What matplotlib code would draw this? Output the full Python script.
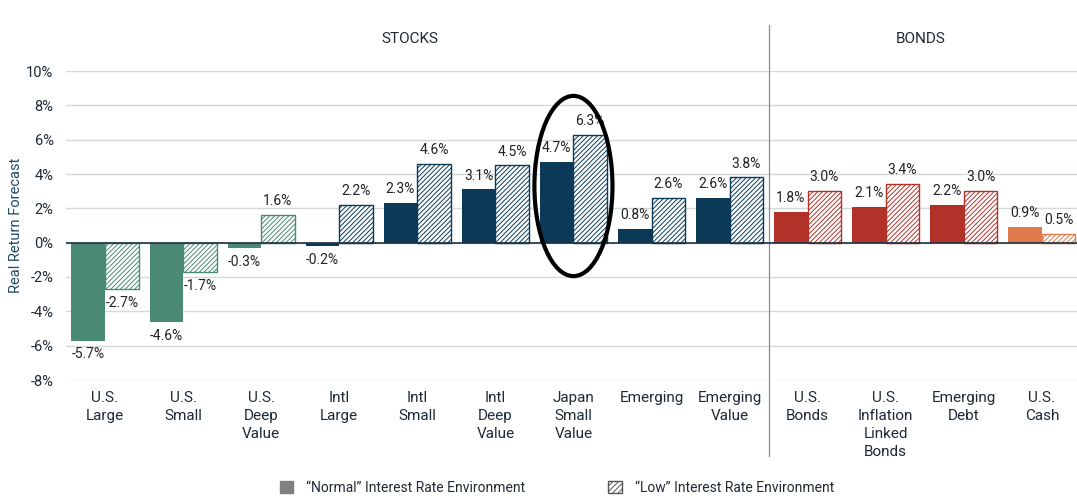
import matplotlib.pyplot as plt
from matplotlib.patches import Ellipse, Patch

plt.rcParams['font.family'] = ['Roboto', 'DejaVu Sans']
plt.rcParams['hatch.linewidth'] = 0.7

categories = ["U.S.\nLarge", "U.S.\nSmall", "U.S.\nDeep\nValue", "Intl\nLarge", "Intl\nSmall",
              "Intl\nDeep\nValue", "Japan\nSmall\nValue", "Emerging", "Emerging\nValue",
              "U.S.\nBonds", "U.S.\nInflation\nLinked\nBonds", "Emerging\nDebt", "U.S.\nCash"]
normal = [-5.7, -4.6, -0.3, -0.2, 2.3, 3.1, 4.7, 0.8, 2.6, 1.8, 2.1, 2.2, 0.9]
low = [-2.7, -1.7, 1.6, 2.2, 4.6, 4.5, 6.3, 2.6, 3.8, 3.0, 3.4, 3.0, 0.5]
groups = ["green"] * 3 + ["navy"] * 6 + ["red"] * 3 + ["orange"]

couleurs = {"green": "#4a8a74", "navy": "#0b3a58", "red": "#b2322a", "orange": "#de7a4c"}
texte = "#1e2a36"

fig = plt.figure(figsize=(10.77, 5.03), dpi=100)
ax = fig.add_axes([66 / 1077, 1 - 380 / 503, 1 - 66 / 1077, (380 - 71) / 503])

w = 0.43
x = list(range(len(categories)))
for i in x:
    c = couleurs[groups[i]]
    ax.bar(i - w / 2, normal[i], w, color=c, zorder=3)
    ax.bar(i + w / 2, low[i], w, facecolor="white", edgecolor=c, hatch="///////",
           linewidth=1, zorder=3)

# etiquettes
for i in x:
    for dx, v in ((-w / 2, normal[i]), (w / 2, low[i])):
        if v >= 0:
            ax.text(i + dx, v + 0.4, f"{v:.1f}%", ha="center", va="bottom", fontsize=10, color="#222")
        else:
            ax.text(i + dx, v - 0.4, f"{v:.1f}%", ha="center", va="top", fontsize=10, color="#222")

ax.set_xlim(-0.5, 12.45)
ax.set_ylim(-8, 10)
ax.set_yticks(range(-8, 11, 2))
ax.set_yticklabels([f"{t}%" for t in range(-8, 11, 2)], fontsize=10.5, color=texte)
ax.set_xticks(x)
ax.set_xticklabels(categories, fontsize=11, color=texte, linespacing=1.35)
ax.tick_params(axis="x", length=0, pad=8)
ax.tick_params(axis="y", length=0, pad=9)
ax.grid(axis="y", color="#d4d9dc", linewidth=1, zorder=0)
ax.axhline(0, color="#1e3040", linewidth=1.2, zorder=4)
for s in ax.spines.values():
    s.set_visible(False)
ax.set_ylabel("Real Return Forecast", fontsize=10.5, color="#1f4a66", labelpad=2)

# separateur stocks / bonds
ax.plot([8.5, 8.5], [-12.4, 12.7], color="#8a8f94", linewidth=0.9, clip_on=False)
ax.text(3.9, 11.85, "STOCKS", ha="center", va="center", fontsize=11, color=texte)
ax.text(10.45, 11.85, "BONDS", ha="center", va="center", fontsize=11, color=texte)

ax.add_patch(Ellipse((6, 3.3), 1.0, 10.5, fill=False, edgecolor="black", linewidth=3,
                     zorder=5, clip_on=False))

handles = [Patch(facecolor="#808080", edgecolor="#808080"),
           Patch(facecolor="white", edgecolor="#555555", hatch="//////")]
fig.legend(handles, ["\u201cNormal\u201d Interest Rate Environment", "\u201cLow\u201d Interest Rate Environment"],
           loc="center", bbox_to_anchor=(0.517, 1 - 488 / 503), ncol=2, frameon=False,
           fontsize=10, columnspacing=6, handlelength=1.0, handleheight=1.0, handletextpad=0.9,
           labelcolor=texte)

fig.savefig("out.png", dpi=100)
